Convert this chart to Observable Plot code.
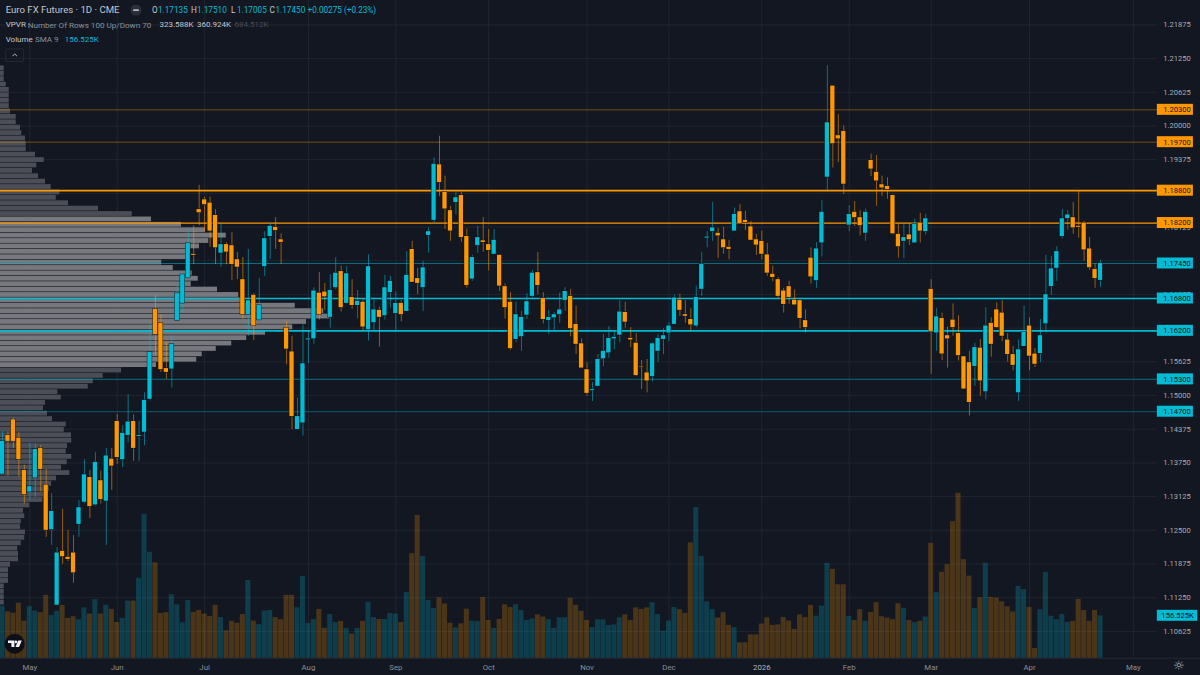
<!DOCTYPE html>
<html>
<head>
<meta charset="utf-8">
<script src="https://cdn.jsdelivr.net/npm/d3@7"></script>
<script src="https://cdn.jsdelivr.net/npm/@observablehq/plot@0.6"></script>
<style>
html,body{margin:0;padding:0;background:#131722;width:1200px;height:675px;overflow:hidden;font-family:Roboto,"Noto Sans",sans-serif}
#chart{position:relative;width:1200px;height:675px;background:#131722;overflow:hidden}
#chart svg.layer{position:absolute;left:0;top:0}
.t{position:absolute;white-space:pre;line-height:1}
</style>
</head>
<body>
<div id="chart"></div>
<script>
// Daily OHLC in ten-thousandths of a dollar per euro (11745 = 1.17450)
const opens = [11354,11426,11455,11421,11361,11321,11347,11402,11334,11251,
11111,11211,11200,11208,11261,11302,11348,11297,11342,11304,
11382,11452,11381,11426,11452,11424,11432,11493,11660,11634,
11550,11549,11639,11671,11718,11762,11845,11863,11857,11834,
11764,11780,11778,11752,11715,11650,11686,11640,11739,11795,
11812,11789,11625,11581,11437,11449,11603,11605,11690,11692,
11645,11700,11730,11671,11682,11667,11673,11622,11635,11658,
11648,11691,11652,11671,11656,11771,11717,11700,11797,11825,
11928,11877,11843,11858,11871,11795,11716,11778,11787,11780,
11762,11760,11702,11673,11604,11609,11649,11684,11728,11680,
11639,11644,11650,11676,11684,11632,11596,11548,11509,11517,
11568,11579,11605,11612,11654,11606,11597,11554,11542,11535,
11582,11604,11616,11632,11677,11650,11641,11629,11697,11792,
11804,11801,11789,11775,11805,11841,11825,11813,11789,11786,
11761,11725,11715,11694,11702,11677,11676,11639,11755,11713,
11783,11905,12074,11982,11990,11816,11840,11830,11801,11936,
11914,11891,11888,11871,11799,11786,11798,11783,11820,11804,
11697,11616,11643,11611,11640,11615,11572,11561,11554,11588,
11507,11634,11659,11653,11603,11576,11505,11591,11629,11577,
11578,11633,11702,11736,11795,11828,11830,11814,11820,11772,
11734,11713.5];
const closes = [11415,11415,11415,11381,11316,11331,11400,11363,11250,11285,
11208,11201,11196,11171,11292,11353,11294,11376,11307,11388,
11369,11385,11430,11451,11402,11426,11491,11580,11613,11548,
11543,11595,11689,11724,11782,11760,11839,11854,11805,11774,
11780,11766,11743,11738,11650,11676,11629,11667,11791,11814,
11806,11784,11586,11461,11461,11559,11605,11694,11650,11683,
11695,11727,11663,11726,11667,11675,11627,11739,11659,11645,
11700,11712,11671,11650,11723,11710,11708,11737,11804,11929,
11895,11846,11805,11867,11793,11704,11756,11793,11784,11769,
11788,11703,11663,11587,11650,11645,11674,11727,11704,11641,
11645,11650,11659,11693,11624,11595,11551,11504,11511,11567,
11582,11606,11608,11655,11636,11603,11537,11553,11527,11596,
11606,11611,11629,11681,11658,11647,11631,11682,11743,11794,
11811,11796,11774,11771,11836,11819,11821,11788,11779,11762,
11727,11719,11684,11669,11682,11668,11643,11626,11720,11772,
11840,12006,11967,11976,11892,11836,11830,11815,11840,11920,
11898,11885,11882,11800,11776,11793,11789,11818,11805,11828,
11619,11646,11577,11605,11626,11574,11512,11487,11589,11527,
11629,11595,11626,11610,11576,11556,11585,11617,11573,11558,
11611,11687,11735,11767,11828,11835,11811,11812,11770,11737,
11717,11745];
const highs = [11433,11432,11459,11431,11371,11411,11411,11407,11363,11318,
11218,11289,11250,11240,11305,11381,11361,11394,11360,11402,
11402,11465,11444,11502,11464,11452,11505,11633,11686,11650,
11599,11610,11704,11727,11807,11815,11890,11868,11868,11845,
11819,11784,11802,11765,11756,11771,11689,11717,11804,11819,
11830,11800,11637,11610,11495,11631,11619,11700,11728,11708,
11724,11756,11740,11739,11715,11695,11679,11761,11681,11664,
11723,11721,11692,11676,11767,11786,11736,11749,11811,11941,
11981,11907,11851,11877,11877,11809,11760,11814,11830,11808,
11808,11762,11707,11691,11673,11656,11689,11732,11765,11691,
11658,11654,11690,11700,11697,11666,11605,11561,11524,11576,
11613,11628,11620,11676,11673,11626,11615,11565,11567,11598,
11613,11624,11635,11686,11688,11676,11661,11703,11765,11804,
11858,11810,11812,11788,11848,11854,11842,11823,11799,11805,
11782,11740,11719,11699,11712,11696,11678,11659,11774,11784,
11862,12112,12074,12021,12000,11852,11860,11843,11846,11948,
11945,11907,11904,11872,11819,11819,11819,11827,11838,11836,
11715,11662,11653,11627,11670,11648,11572,11582,11597,11604,
11663,11644,11672,11676,11615,11591,11603,11666,11644,11587,
11641,11760,11758,11776,11845,11843,11858,11880,11823,11793,
11745,11751];
const lows = [11354,11350,11402,11349,11299,11305,11311,11321,11237,11222,
11111,11187,11192,11152,11237,11299,11272,11295,11299,11222,
11324,11372,11366,11412,11378,11378,11407,11490,11574,11543,
11530,11514,11639,11654,11717,11743,11815,11804,11775,11743,
11738,11743,11713,11715,11641,11610,11602,11640,11721,11752,
11771,11743,11557,11437,11437,11425,11559,11595,11640,11658,
11625,11697,11655,11669,11660,11642,11619,11601,11619,11590,
11640,11662,11619,11637,11656,11710,11687,11656,11764,11820,
11869,11808,11786,11835,11784,11699,11712,11764,11766,11731,
11762,11693,11642,11584,11598,11582,11641,11681,11687,11633,
11613,11619,11634,11656,11609,11576,11551,11499,11489,11517,
11553,11569,11585,11598,11625,11589,11535,11511,11505,11525,
11561,11576,11600,11632,11647,11634,11619,11626,11684,11774,
11786,11754,11762,11752,11805,11818,11806,11788,11760,11752,
11721,11711,11679,11653,11669,11668,11624,11616,11707,11699,
11757,11877,11922,11932,11873,11804,11814,11796,11786,11906,
11851,11869,11864,11798,11755,11754,11778,11783,11783,11798,
11539,11582,11565,11551,11610,11564,11512,11462,11517,11499,
11492,11571,11624,11600,11562,11546,11489,11591,11546,11552,
11561,11616,11686,11712,11791,11806,11799,11792,11749,11732,
11699,11700.5];
// Daily volume, thousands of contracts
const volumes = [192,171,166,203,137,190,174,168,232,158,
173,195,147,153,142,186,163,216,163,195,
180,132,147,211,211,295,531,391,352,165,
168,234,197,131,213,169,176,163,154,195,
150,101,136,129,161,287,137,124,174,176,
150,142,232,232,186,302,128,143,180,110,
161,132,136,110,89,110,136,206,150,143,
143,165,163,132,243,386,527,376,213,184,
223,200,129,112,127,181,137,136,224,139,
110,143,197,187,197,176,139,145,160,152,
142,110,149,149,221,195,173,139,113,142,
142,121,123,149,160,139,186,180,186,205,
161,100,137,187,179,165,426,556,376,208,
179,148,168,121,113,57,57,86,86,126,
149,121,123,150,137,106,160,150,195,155,
192,350,328,271,271,154,139,179,136,169,
205,153,148,142,201,184,139,131,136,152,
424,242,317,345,504,609,364,303,184,223,
350,224,222,208,190,171,265,253,187,36,
179,317,155,142,161,132,136,217,176,136,
176,156.525];
// Visible-range volume profile, 100 rows from the highest high to the lowest low
const profile = [15,15,15,23,35,35,35,35,40,63,63,80,85,100,103,103,140,175,145,128,
152,180,203,237,223,272,392,527,604,724,820,903,833,796,760,744,645,691,767,791,
763,868,953,980,1179,1293,1317,1224,1169,1060,985,925,863,807,785,624,484,411,371,351,
229,243,180,172,188,208,263,255,284,285,268,263,285,267,244,277,224,204,196,172,
169,117,92,97,83,80,100,97,83,69,72,72,40,32,32,32,15,15,15,15];
const valueAreaRows = [28, 55];
// Horizontal levels
const levels = [1.203,1.197,1.188,1.182,1.1745,1.168,1.162,1.153,1.147];
const levelSide = ["orange","orange","orange","orange","teal","teal","teal","teal","teal"];
const levelWidth = [1,1,1.7,1.3,1,1.6,1.6,1.3,1];
const levelOpacity = [0.42,0.42,1,1,0.55,1,1,0.42,0.42];
const levelDash = ["none","none","none","none","1.5,1","none","none","none","none"];
// Axis ticks: gridlines at every step, labels except where a level box covers them fully
const priceTicks = [1.21875,1.2125,1.20625,1.2,1.19375,1.1875,1.18125,1.175,1.16875,1.1625,1.15625,1.15,1.14375,1.1375,1.13125,1.125,1.11875,1.1125,1.10625];
const coveredTicks = [1.1875,1.175];
const monthLabels = ["May","Jun","Jul","Aug","Sep","Oct","Nov","Dec","2026","Feb","Mar","Apr","May"];
const monthBars = [5,21,37,56,72,89,107,122,139,155,170,188,207];

const TEAL = "#00bcd4", ORANGE = "#ff9800", BG = "#131722", GRID = "#232835";
const colorOf = {teal: TEAL, orange: ORANGE};
const rows = opens.map((o, i) => ({i, open:o/1e4, high:highs[i]/1e4, low:lows[i]/1e4, close:closes[i]/1e4, vol:volumes[i],
  color: closes[i] >= o ? TEAL : ORANGE}));
const levelRows = levels.map((p, k) => ({p, color: colorOf[levelSide[k]], w: levelWidth[k], op: levelOpacity[k], dash: levelDash[k]}));

const barDomain = [-0.366, 219.3];          // bar-number range shown across the window
const priceDomain = [1.09807, 1.22328];     // price range shown down the window
const leftEnd = barDomain[0], plotEnd = 211.4, boxEnd = 218, labelAt = 215;
const base = {width:1200, height:675, margin:0, x:{domain:barDomain, range:[0,1200], axis:null},
  color:{type:"identity"}, style:{background:"transparent", fontFamily:"Roboto,'Noto Sans',sans-serif", overflow:"hidden"}};
const priceY = {domain:priceDomain, range:[675,0], axis:null};
const root = document.getElementById("chart");
function add(opts){ const s = Plot.plot({...base, ...opts}); s.classList.add("layer"); root.appendChild(s); return s; }

// Layer 1: grid and axis labels
add({y:priceY, marks:[
  Plot.ruleY(priceTicks,{y:d=>d, x1:leftEnd, x2:plotEnd, stroke:GRID, strokeWidth:0.8}),
  Plot.ruleX(monthBars,{x:d=>d, y1:priceDomain[0]+0.0032, y2:priceDomain[1], stroke:GRID, strokeWidth:0.8}),
  Plot.ruleY([priceDomain[0]+0.0032],{x1:leftEnd, x2:barDomain[1], stroke:"#2a2e39", strokeWidth:0.8}),
  Plot.text(priceTicks.filter(t=>!coveredTicks.includes(t)),{x:labelAt, y:d=>d, text:d=>d.toFixed(5), fill:"#a8abb3", fontSize:7.6}),
  Plot.text(monthBars,{x:d=>d, text:(d,k)=>monthLabels[k], frameAnchor:"bottom", dy:-6, fill:(d,k)=>monthLabels[k]==="2026"?"#b2b5be":"#8b8e98", fontSize:7.8})
]});

// Layer 2: volume pane with its own scale
const volPerPixel = 156.525/42.4;
add({y:{domain:[0,657.7*volPerPixel], range:[657.7,0], axis:null}, marks:[
  Plot.rect(rows,{x1:d=>d.i-0.46, x2:d=>d.i+0.46, y1:0, y2:"vol", fill:"color", fillOpacity:0.24}),
  Plot.rect([volumes[volumes.length-1]],{x1:plotEnd, x2:218.8, y1:d=>d-20.3, y2:d=>d+20.3, fill:TEAL}),
  Plot.text([volumes[volumes.length-1]],{x:215.1, y:d=>d, text:d=>d.toFixed(3)+"K", fill:BG, fontSize:7.6})
]});

// Layer 3: visible-range volume profile
const pHigh = d3.max(highs)/1e4, pLow = d3.min(lows)/1e4, step = (pHigh-pLow)/profile.length;
const profRows = profile.map((v,r)=>({r, v, top:pHigh-r*step, bot:pHigh-(r+1)*step, va:r>=valueAreaRows[0]&&r<=valueAreaRows[1]}));
add({x:{domain:[0,4800], range:[0,1200], axis:null}, y:priceY, marks:[
  Plot.rect(profRows,{x1:0, x2:"v", y1:"bot", y2:"top", fill:d=>d.va?"#77787d":"#4b4e57", insetTop:0.3, insetBottom:0.3})
]});

// Layer 4: levels, candles, price boxes
add({y:priceY, marks:[
  Plot.ruleY(levelRows,{y:"p", x1:leftEnd, x2:plotEnd, stroke:"color", strokeWidth:"w", strokeOpacity:"op", strokeDasharray:"dash"}),
  Plot.ruleX(rows,{x:"i", y1:"low", y2:"high", stroke:"color", strokeWidth:1, strokeOpacity:0.55}),
  Plot.rect(rows,{x1:d=>d.i-0.39, x2:d=>d.i+0.39, y1:"open", y2:"close", stroke:"#0e1118", strokeWidth:1.1, strokeOpacity:0.8, fill:"none"}),
  Plot.rect(rows,{x1:d=>d.i-0.39, x2:d=>d.i+0.39, y1:"open", y2:"close", fill:"color"}),
  Plot.rect(levelRows,{x1:plotEnd, x2:boxEnd, y1:d=>d.p-0.00102, y2:d=>d.p+0.00102, fill:"color"}),
  Plot.text(levelRows,{x:labelAt, y:"p", text:d=>d.p.toFixed(5), fill:BG, fontSize:7.6})
]});

// Header and chrome
function label(x,y,txt,color,size,weight){
  const s=document.createElement("div"); s.className="t"; s.textContent=txt;
  s.style.cssText=`left:${x}px;top:${y}px;color:${color};font-size:${size}px;font-weight:${weight||400}`;
  root.appendChild(s); return s;
}
const LT="#c3c6ce", MID="#8d9099";
label(5.7,5,"Euro FX Futures · 1D · CME",LT,9.6);
[[152,"O","1.17135"],[191,"H","1.17510"],[231,"L","1.17005"],[269.5,"C","1.17450"]].forEach(([x,k,v])=>{
  label(x,6,k,LT,8.2); label(x+6,6,v,TEAL,8.2);
});
label(307.5,6,"+0.00275 (+0.23%)",TEAL,8.2);
label(5.7,21,"VPVR",LT,8);
label(27.7,21,"Number Of Rows 100 Up/Down 70",MID,8.1);
label(159.5,21,"323.588K",LT,8);
label(197,21,"360.924K",LT,8);
label(234.5,21,"684.512K","#4a4d56",8);
label(5.7,36,"Volume",LT,8);
label(35,36,"SMA 9",MID,8);
label(64.7,36,"156.525K",TEAL,8);
label(1173,658.5,"☼","#aeb1b9",13).style.fontFamily="'DejaVu Sans'";

const chrome=document.createElement("div");
chrome.innerHTML=`<svg width="1200" height="675" style="position:absolute;left:0;top:0;pointer-events:none" fill="none">
<circle cx="136" cy="10" r="5.6" fill="#2a2e39"/><rect x="133" y="9.2" width="6" height="1.7" rx="0.6" fill="#b2b5be"/>
<rect x="5.7" y="48.9" width="18" height="12.6" rx="1.6" stroke="#2a2e39" stroke-width="0.8"/>
<path d="M12.4 56.2 L14.7 53.9 L17 56.2" stroke="#c3c6ce" stroke-width="0.9"/>
<circle cx="14.7" cy="643.7" r="10" fill="#0c0f15"/>
<path d="M8 640.5h6.4v6.5h-3v-4h-3.4z" fill="#f1f3f6"/><circle cx="15.9" cy="641.9" r="1.3" fill="#f1f3f6"/>
<path d="M18.2 640.5h3.6l-2.8 6.5h-3.5z" fill="#f1f3f6"/>
</svg>`;
root.appendChild(chrome);
</script>
</body>
</html>
